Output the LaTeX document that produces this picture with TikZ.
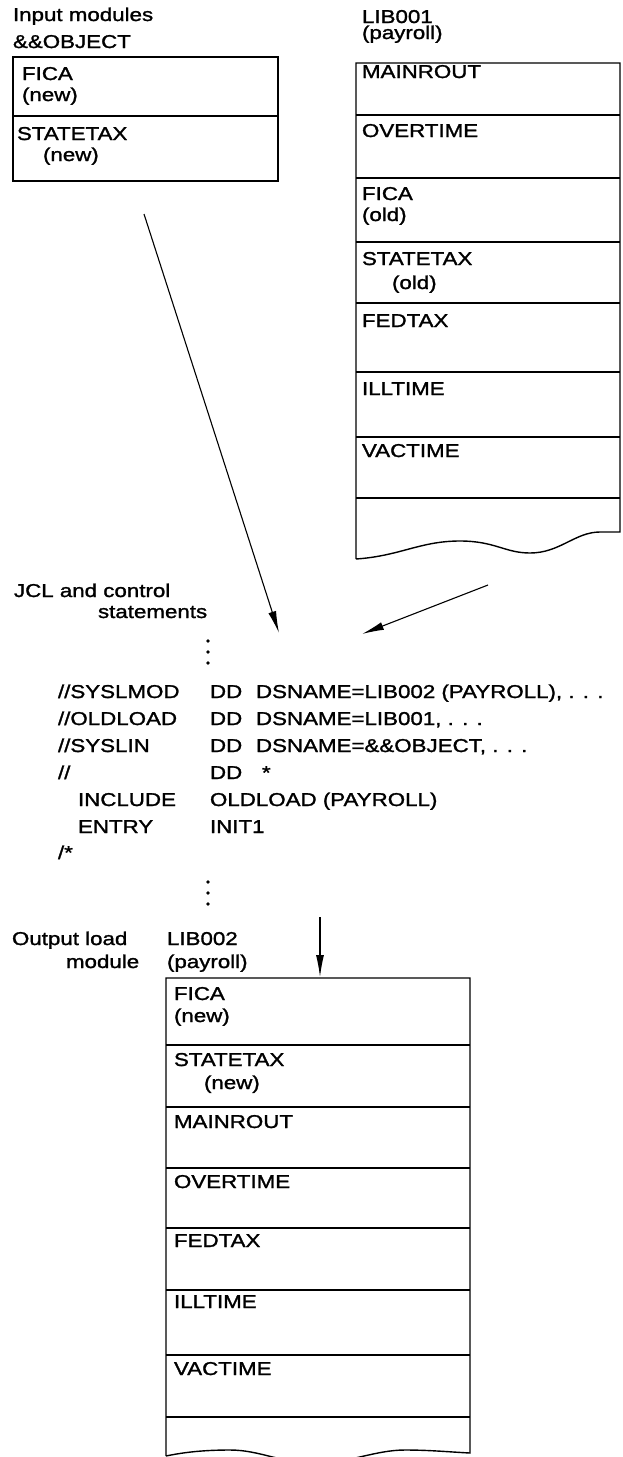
\documentclass[tikz,border=0pt]{standalone}
\usepackage{fontspec}
\setmainfont{Liberation Sans}[FakeStretch=1.2,FakeBold=1.4]
\usetikzlibrary{arrows.meta}
\begin{document}
\begin{tikzpicture}[x=1pt,y=-1pt,
  lbl/.style={anchor=base west,inner sep=0pt,outer sep=0pt,font=\fontsize{18.6}{22}\selectfont},
  boxline/.style={line width=1.4pt},
  conn/.style={line width=1.1pt,-{Latex[length=22pt,width=8pt]}},
  vdot/.style={circle,fill,inner sep=0pt,minimum size=3.6pt}]
\useasboundingbox (0,0) rectangle (623,1457);

% ---------- input modules ----------
\node[lbl] (inmod) at (13,21) {Input modules};
\node[lbl] (inobj) at (13,48) {\&\&OBJECT};
\draw[boxline] (13,57) rectangle (278,181);
\draw[boxline] (13,116) -- (278,116);
\node[lbl] (inA) at (22,80) {FICA};
\node[lbl] (inAn) at (22,101) {(new)};
\node[lbl] (inB) at (17,140) {STATETAX};
\node[lbl] (inBn) at (43,161) {(new)};

% ---------- LIB001 ----------
\node[lbl] (l1) at (362,23) {LIB001};
\node[lbl] (l1p) at (362,39) {(payroll)};
\draw[boxline] (356,559) -- (356,63) -- (620,63) -- (620,532) -- (600,532)
  .. controls (575,532) and (560,553) .. (530,553)
  .. controls (505,553) and (495,541) .. (460,541)
  .. controls (420,541) and (400,556) .. (356,559);
\foreach \yy in {115,178,242,303,372,437,498}
  \draw[boxline] (356,\yy) -- (620,\yy);
\node[lbl] (r1) at (362,78) {MAINROUT};
\node[lbl] (r2) at (362,137) {OVERTIME};
\node[lbl] (r3) at (362,200) {FICA};
\node[lbl] (r3o) at (362,221) {(old)};
\node[lbl] (r4) at (362,265) {STATETAX};
\node[lbl] (r4o) at (392,289) {(old)};
\node[lbl] (r5) at (362,327) {FEDTAX};
\node[lbl] (r6) at (362,395) {ILLTIME};
\node[lbl] (r7) at (362,457) {VACTIME};

% ---------- arrows into JCL ----------
\coordinate (a1s) at (144,214);
\coordinate (a1e) at (279,633);
\coordinate (a2s) at (488,585);
\coordinate (a2e) at (362,634);
\draw[conn] (a1s) -- (a1e);
\draw[conn] (a2s) -- (a2e);

% ---------- JCL ----------
\node[lbl] (jcl1) at (14,597) {JCL and control};
\node[lbl] (jcl2) at (98,618) {statements};
\node[vdot] (d1) at (208,641) {};
\node[vdot] (d2) at (208,652) {};
\node[vdot] (d3) at (208,663) {};
\node[lbl] (s1a) at (58,698) {//SYSLMOD};
\node[lbl] (s1b) at (210,698) {DD};
\node[lbl] (s1c) at (256,698) {DSNAME=LIB002 (PAYROLL), . . .};
\node[lbl] (s2a) at (58,725) {//OLDLOAD};
\node[lbl] (s2b) at (210,725) {DD};
\node[lbl] (s2c) at (256,725) {DSNAME=LIB001, . . .};
\node[lbl] (s3a) at (58,752) {//SYSLIN};
\node[lbl] (s3b) at (210,752) {DD};
\node[lbl] (s3c) at (256,752) {DSNAME=\&\&OBJECT, . . .};
\node[lbl] (s4a) at (58,779) {//};
\node[lbl] (s4b) at (210,779) {DD};
\node[lbl] (s4c) at (262,779) {*};
\node[lbl] (s5a) at (78,806) {INCLUDE};
\node[lbl] (s5b) at (210,806) {OLDLOAD (PAYROLL)};
\node[lbl] (s6a) at (78,833) {ENTRY};
\node[lbl] (s6b) at (210,833) {INIT1};
\node[lbl] (s7a) at (58,859) {/*};
\node[vdot] (e1) at (208,882) {};
\node[vdot] (e2) at (208,893) {};
\node[vdot] (e3) at (208,904) {};

% ---------- output ----------
\node[lbl] (out1) at (12,945) {Output load};
\node[lbl] (out2) at (66,968) {module};
\node[lbl] (l2) at (167,945) {LIB002};
\node[lbl] (l2p) at (167,968) {(payroll)};
\coordinate (a3s) at (320,917);
\coordinate (a3e) at (320,977);
\draw[conn] (a3s) -- (a3e);
\draw[boxline] (166,1456) -- (166,978) -- (470,978) -- (470,1453)
  .. controls (450,1452) and (430,1450) .. (405,1450)
  .. controls (375,1450) and (350,1463) .. (315,1463)
  .. controls (280,1463) and (260,1450) .. (230,1450)
  .. controls (205,1450) and (185,1452) .. (166,1456);
\foreach \yy in {1045,1107,1168,1228,1290,1355,1417}
  \draw[boxline] (166,\yy) -- (470,\yy);
\node[lbl] (b1) at (174,1000) {FICA};
\node[lbl] (b1n) at (174,1022) {(new)};
\node[lbl] (b2) at (174,1066) {STATETAX};
\node[lbl] (b2n) at (204,1089) {(new)};
\node[lbl] (b3) at (174,1128) {MAINROUT};
\node[lbl] (b4) at (174,1188) {OVERTIME};
\node[lbl] (b5) at (174,1247) {FEDTAX};
\node[lbl] (b6) at (174,1308) {ILLTIME};
\node[lbl] (b7) at (174,1375) {VACTIME};
\end{tikzpicture}
\end{document}
